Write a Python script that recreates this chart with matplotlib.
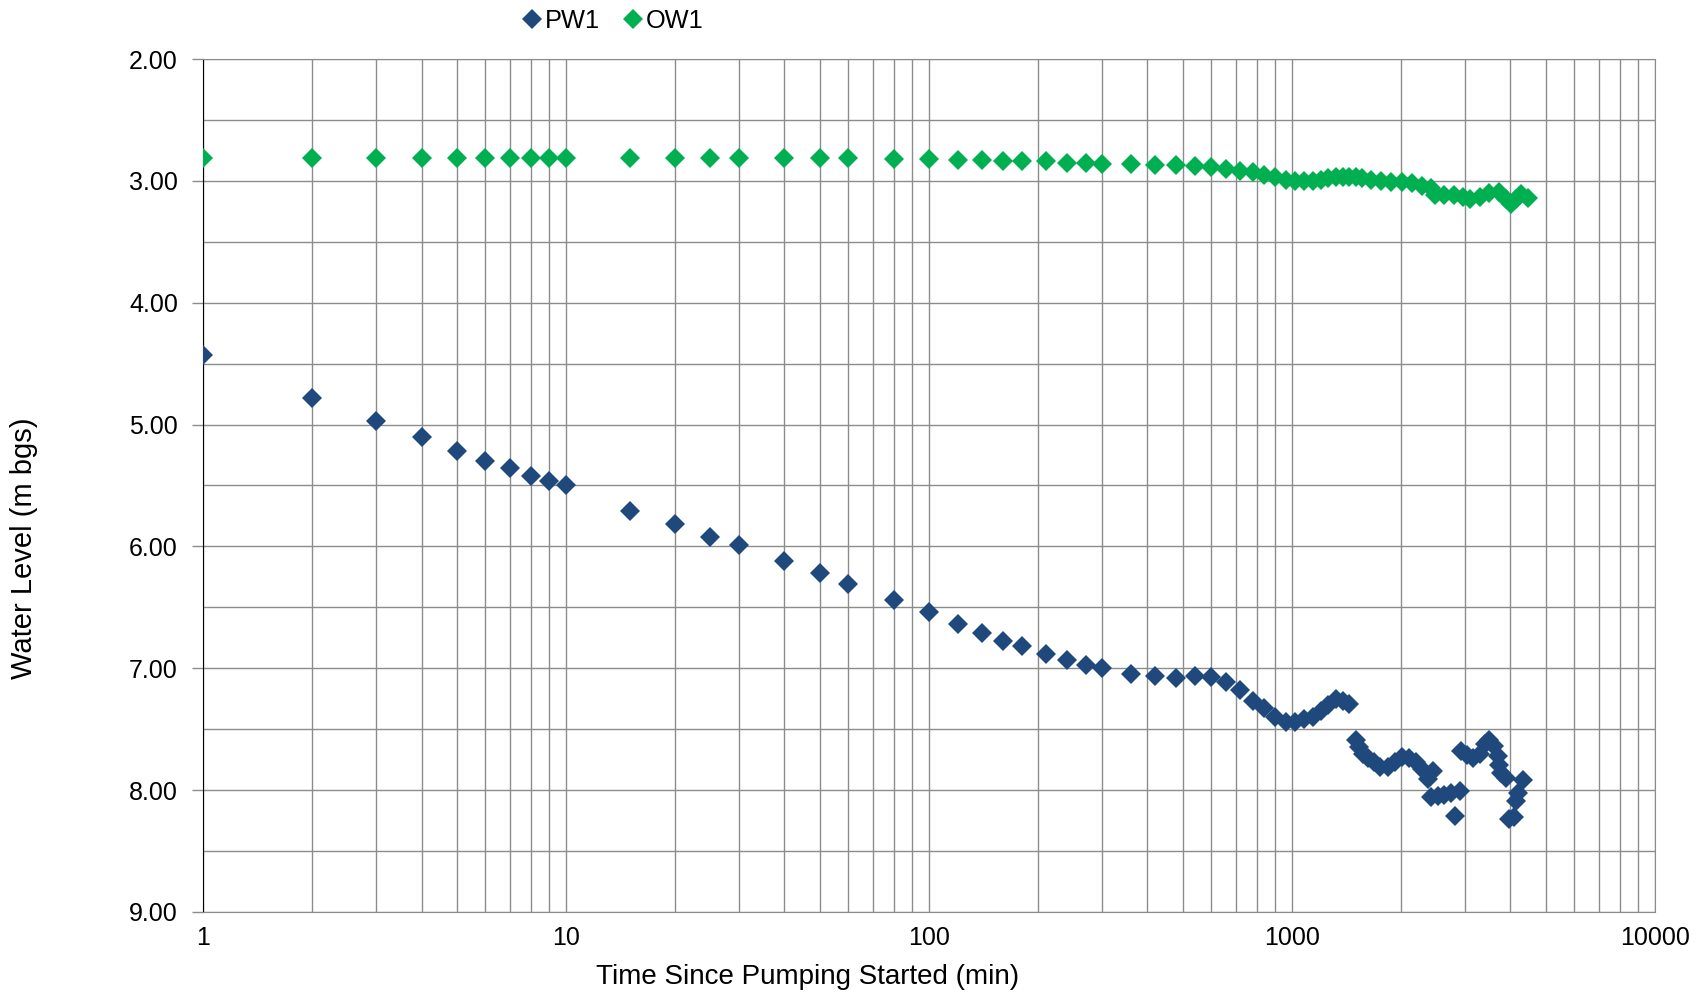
# Grafica de prueba de bombeo: nivel de agua vs tiempo (escala log)
import matplotlib
matplotlib.use("Agg")
import matplotlib.pyplot as plt
from matplotlib.ticker import FixedLocator, NullFormatter, MultipleLocator, FormatStrFormatter

plt.rcParams['font.family'] = ['Liberation Sans', 'DejaVu Sans']

# PW1 - pozo de bombeo
t_pw1 = [1, 2, 3, 4, 5, 6, 7, 8, 9, 10, 15, 20, 25, 30, 40, 50, 60, 80, 100,
         120, 140, 160, 180, 210, 240, 270, 300, 360, 420, 480, 540, 600, 660,
         720, 780, 840, 900, 960, 1020, 1080, 1140, 1200, 1260, 1320, 1380,
         1440, 1500, 1530, 1570, 1620, 1680, 1750, 1840, 1920, 2010, 2100,
         2190, 2280, 2370, 2420, 2450, 2520, 2620, 2740, 2820, 2900, 2920,
         3040, 3160, 3300, 3400, 3500, 3610, 3690, 3730, 3770, 3890, 3960,
         4100, 4140, 4190, 4330]
wl_pw1 = [4.43, 4.78, 4.97, 5.10, 5.22, 5.30, 5.36, 5.42, 5.46, 5.50, 5.71,
          5.82, 5.92, 5.99, 6.12, 6.22, 6.31, 6.44, 6.54, 6.64, 6.71, 6.78,
          6.82, 6.88, 6.93, 6.97, 7.00, 7.05, 7.06, 7.08, 7.06, 7.07, 7.11,
          7.18, 7.27, 7.33, 7.40, 7.44, 7.44, 7.42, 7.40, 7.35, 7.30, 7.25,
          7.27, 7.29, 7.59, 7.65, 7.70, 7.74, 7.77, 7.81, 7.81, 7.77, 7.73,
          7.74, 7.77, 7.83, 7.91, 8.06, 7.84, 8.05, 8.04, 8.02, 8.21, 8.01,
          7.68, 7.71, 7.74, 7.70, 7.62, 7.59, 7.64, 7.72, 7.79, 7.86, 7.90,
          8.24, 8.22, 8.09, 8.02, 7.92]

# OW1 - pozo de observacion
t_ow1 = [1, 2, 3, 4, 5, 6, 7, 8, 9, 10, 15, 20, 25, 30, 40, 50, 60, 80, 100,
         120, 140, 160, 180, 210, 240, 270, 300, 360, 420, 480, 540, 600, 660,
         720, 780, 840, 900, 960, 1020, 1080, 1140, 1200, 1260, 1320, 1380,
         1440, 1500, 1560, 1650, 1760, 1880, 2010, 2140, 2280, 2410, 2480,
         2620, 2790, 2960, 3100, 3300, 3500, 3730, 3890, 4010, 4150, 4280, 4460]
wl_ow1 = [2.81, 2.81, 2.81, 2.81, 2.81, 2.81, 2.81, 2.81, 2.81, 2.81, 2.81,
          2.81, 2.81, 2.81, 2.81, 2.81, 2.81, 2.82, 2.82, 2.83, 2.83, 2.84,
          2.84, 2.84, 2.85, 2.85, 2.86, 2.86, 2.87, 2.87, 2.88, 2.89, 2.90,
          2.92, 2.93, 2.95, 2.97, 2.99, 3.00, 3.00, 3.00, 2.99, 2.98, 2.97,
          2.97, 2.97, 2.97, 2.98, 2.99, 3.00, 3.01, 3.01, 3.02, 3.04, 3.06,
          3.12, 3.12, 3.12, 3.13, 3.15, 3.13, 3.10, 3.09, 3.15, 3.19, 3.15,
          3.11, 3.14]

azul = '#1F497D'
verde = '#00B050'
gris = '#8c8c8c'

fig = plt.figure(figsize=(17.07, 9.97), dpi=100)
ax = fig.add_axes([0.1189, 0.0853, 0.8506, 0.8555])

ax.plot(t_pw1, wl_pw1, linestyle='none', marker='D', ms=9.8, color=azul,
        markeredgewidth=0, label='PW1', zorder=3)
ax.plot(t_ow1, wl_ow1, linestyle='none', marker='D', ms=9.8, color=verde,
        markeredgewidth=0, label='OW1', zorder=3)

ax.set_xscale('log')
ax.set_xlim(1, 10000)
ax.set_ylim(9, 2)

ax.yaxis.set_major_locator(MultipleLocator(1.0))
ax.yaxis.set_minor_locator(MultipleLocator(0.5))
ax.yaxis.set_major_formatter(FormatStrFormatter('%.2f'))

minors = [m * 10 ** d for d in range(4) for m in range(2, 10)]
ax.xaxis.set_minor_locator(FixedLocator(minors))
ax.xaxis.set_minor_formatter(NullFormatter())
ax.set_xticks([1, 10, 100, 1000, 10000])
ax.set_xticklabels(['1', '10', '100', '1000', '10000'])

ax.grid(True, which='both', color=gris, linewidth=1.0)
ax.set_axisbelow(True)

ax.tick_params(axis='y', which='major', direction='out', length=8, width=1,
               color=gris, labelsize=18, pad=10)
ax.tick_params(axis='y', which='minor', length=0)
ax.tick_params(axis='x', which='both', length=0, labelsize=18, pad=10)

for lado in ['top', 'right', 'bottom']:
    ax.spines[lado].set_color(gris)
ax.spines['left'].set_color('black')

fig.text(24 / 1707, 1 - 548 / 997, 'Water Level (m bgs)', rotation=90,
         ha='center', va='center', fontsize=21)
fig.text(808 / 1707, 1 - 977 / 997, 'Time Since Pumping Started (min)',
         ha='center', va='center', fontsize=20)

fig.legend(loc='center', bbox_to_anchor=(611 / 1707, 1 - 21 / 997), ncol=2,
           frameon=False, fontsize=18.3, handletextpad=0.0, columnspacing=0.8,
           handlelength=1.0, borderpad=0.2)

fig.savefig('out.png', dpi=100)
